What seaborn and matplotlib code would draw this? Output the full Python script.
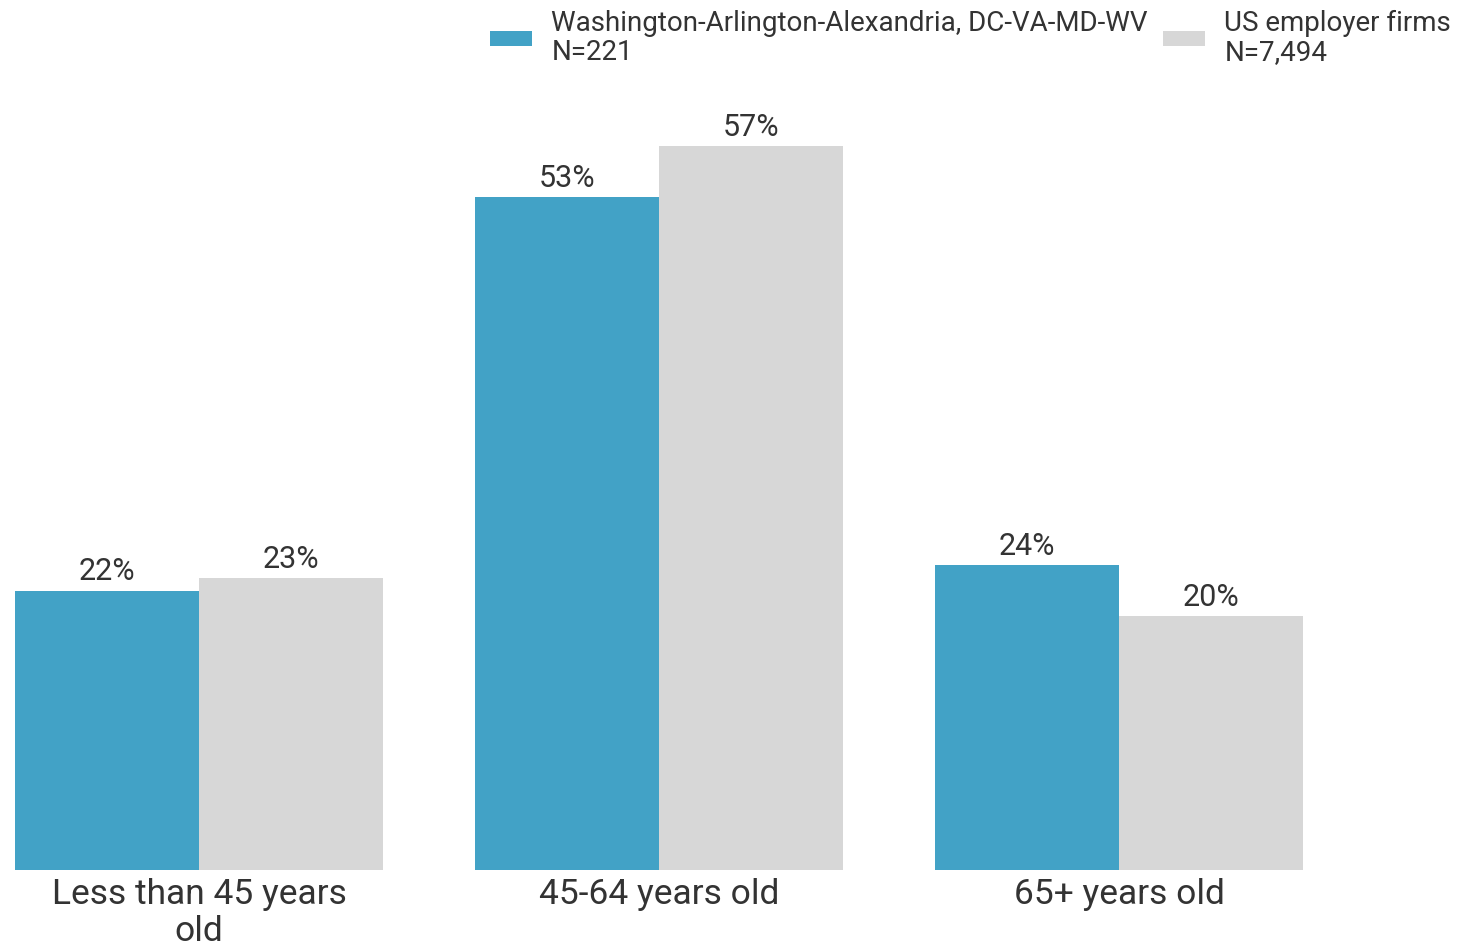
import pandas as pd
import matplotlib.pyplot as plt
import seaborn as sns

# ---data---
age_groups = ['Less than 45 years\nold', '45-64 years old', '65+ years old']
dc_values = [22, 53, 24]
us_values = [23, 57, 20]
series_names = ['Washington-Arlington-Alexandria, DC-VA-MD-WV\nN=221', 'US employer firms\nN=7,494']
colors = ['#42A2C6', '#D7D7D7']

df = pd.DataFrame({
    'Age': age_groups * 2,
    'Share': dc_values + us_values,
    'Group': [series_names[0]] * 3 + [series_names[1]] * 3,
})

# ---styling---
sns.set_style('white')
plt.rcParams['font.family'] = ['Roboto', 'DejaVu Sans']
plt.rcParams['text.color'] = '#333333'

fig = plt.figure(figsize=(14.6, 9.49), dpi=100)
ax = fig.add_axes([15 / 1460, 1 - 870 / 949, (1303 - 15) / 1460, (870 - 108) / 949])

sns.barplot(data=df, x='Age', y='Share', hue='Group', palette=colors,
            width=0.8, saturation=1, edgecolor='none', ax=ax)

ax.set_xlim(-0.4, 2.4)
ax.set_ylim(0, 60)
ax.set_xlabel('')
ax.set_ylabel('')
ax.set_yticks([])
ax.tick_params(axis='x', length=0, labelsize=25.5, labelcolor='#333333', pad=6)
for lbl in ax.get_xticklabels():
    lbl.set_linespacing(1.15)
sns.despine(ax=ax, left=True, bottom=True, top=True, right=True)

# - value labels on bars
for container in ax.containers:
    ax.bar_label(container, fmt='%d%%', fontsize=22, color='#333333', padding=3)

# - legend at the top
handles, labels = ax.get_legend_handles_labels()
ax.get_legend().remove()
leg = fig.legend(handles, labels, loc='upper right', bbox_to_anchor=(1.011, 1.016), ncol=2,
                 frameon=False, fontsize=20, handlelength=1.5, handleheight=0.5,
                 columnspacing=0.55, handletextpad=0.7, labelcolor='#333333')
for t in leg.get_texts():
    t.set_linespacing(1.1)

fig.savefig('out.png', dpi=100)
